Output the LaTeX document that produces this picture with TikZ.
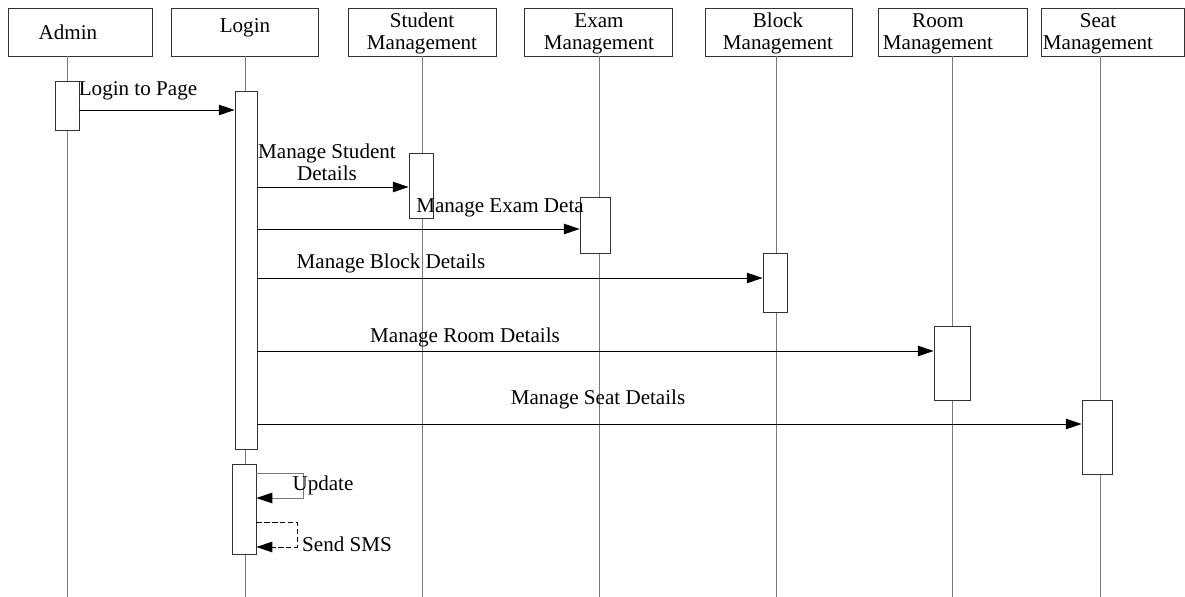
\documentclass[tikz,border=0pt]{standalone}
\usepackage{fontspec}
\setmainfont{Liberation Serif}
\usetikzlibrary{arrows.meta}
\definecolor{lifegray}{HTML}{7A7A7A}
\definecolor{boxline}{HTML}{333333}
\newdimen\pxu
\pxu=0.02cm
\tikzset{
  headbox/.style={draw=boxline, line width=0.5pt, minimum height=48\pxu, inner sep=0pt},
  headtxt/.style={font=\fontsize{12}{12.5}\selectfont, align=center, inner sep=0pt},
  lifeline/.style={draw=lifegray, line width=0.45pt},
  actbox/.style={draw=boxline, fill=white, line width=0.5pt, inner sep=0pt},
  msg/.style={draw, line width=0.5pt, -{Triangle[length=9pt,width=6pt,color=black]}},
  lab/.style={font=\fontsize{12}{12.5}\selectfont, align=center, inner sep=0pt},
}

\begin{document}
\begin{tikzpicture}[x=0.02cm, y=-0.02cm]
  \useasboundingbox (0,0) rectangle (1185,597);

  \node[headbox, minimum width=144\pxu] (adminbox) at (80,32) {};
  \node[headbox, minimum width=147\pxu] (loginbox) at (244.5,32) {};
  \node[headbox, minimum width=148\pxu] (studbox) at (422,32) {};
  \node[headbox, minimum width=148\pxu] (exambox) at (598,32) {};
  \node[headbox, minimum width=147\pxu] (blockbox) at (778.5,32) {};
  \node[headbox, minimum width=149\pxu] (roombox) at (952.5,32) {};
  \node[headbox, minimum width=143\pxu] (seatbox) at (1112.5,32) {};

  \node[headtxt] (admin) at (68,32) {Admin};
  \node[headtxt] (login) at (245,28) {Login};
  \node[headtxt] (stud) at (422,33.5) {Student\\Management};
  \node[headtxt] (exam) at (599,33.5) {Exam\\Management};
  \node[headtxt] (block) at (778,33.5) {Block\\Management};
  \node[headtxt] (room) at (938,33.5) {Room\\Management};
  \node[headtxt] (seat) at (1098,33.5) {Seat\\Management};

  \coordinate (adminend) at (67,597);
  \coordinate (loginend) at (245,597);
  \coordinate (studend) at (422,597);
  \coordinate (examend) at (599,597);
  \coordinate (blockend) at (776,597);
  \coordinate (roomend) at (952,597);
  \coordinate (seatend) at (1100,597);

  \draw[lifeline] (adminend |- adminbox.south) -- (adminend);
  \draw[lifeline] (loginend |- loginbox.south) -- (loginend);
  \draw[lifeline] (studend |- studbox.south) -- (studend);
  \draw[lifeline] (examend |- exambox.south) -- (examend);
  \draw[lifeline] (blockend |- blockbox.south) -- (blockend);
  \draw[lifeline] (roomend |- roombox.south) -- (roomend);
  \draw[lifeline] (seatend |- seatbox.south) -- (seatend);

  \node[actbox, minimum width=24\pxu, minimum height=49\pxu] (adminact) at (67,105.5) {};
  \node[actbox, minimum width=22\pxu, minimum height=358\pxu] (loginact) at (246,270) {};
  \node[actbox, minimum width=24\pxu, minimum height=65\pxu] (studact) at (421,185.5) {};
  \node[actbox, minimum width=30\pxu, minimum height=56\pxu] (examact) at (595,225) {};
  \node[actbox, minimum width=24\pxu, minimum height=59\pxu] (blockact) at (775,282.5) {};
  \node[actbox, minimum width=36\pxu, minimum height=74\pxu] (roomact) at (952,363) {};
  \node[actbox, minimum width=30\pxu, minimum height=74\pxu] (seatact) at (1097,437) {};
  \node[actbox, minimum width=24\pxu, minimum height=90\pxu] (loginact2) at (244,509) {};

  \draw[msg] (adminact.east |- 0,110) -- (loginact.west |- 0,110);
  \draw[msg] (loginact.east |- 0,187) -- (studact.west |- 0,187);
  \draw[msg] (loginact.east |- 0,229) -- (examact.west |- 0,229);
  \draw[msg] (loginact.east |- 0,278) -- (blockact.west |- 0,278);
  \draw[msg] (loginact.east |- 0,351) -- (roomact.west |- 0,351);
  \draw[msg] (loginact.east |- 0,424) -- (seatact.west |- 0,424);

  \coordinate (updturn) at (303,498);
  \coordinate (smsturn) at (297,547);
  \draw[msg, draw=lifegray] (loginact2.east |- 0,473) -| (updturn) -- (loginact2.east |- updturn);
  \draw[msg, dash pattern=on 3pt off 1.5pt] (loginact2.east |- 0,522) -| (smsturn) -- (loginact2.east |- smsturn);

  \node[lab] (m1) at (138,91) {Login to Page};
  \node[lab] (m2) at (327,162.5) {Manage Student\\Details};
  \node[lab] (m3) at (500,208) {Manage Exam Deta};
  \node[lab] (m4) at (391,263) {Manage Block Details};
  \node[lab] (m5) at (465,337) {Manage Room Details};
  \node[lab] (m6) at (598,399) {Manage Seat Details};
  \node[lab] (m7) at (323,485) {Update};
  \node[lab] (m8) at (347,544) {Send SMS};
\end{tikzpicture}
\end{document}
